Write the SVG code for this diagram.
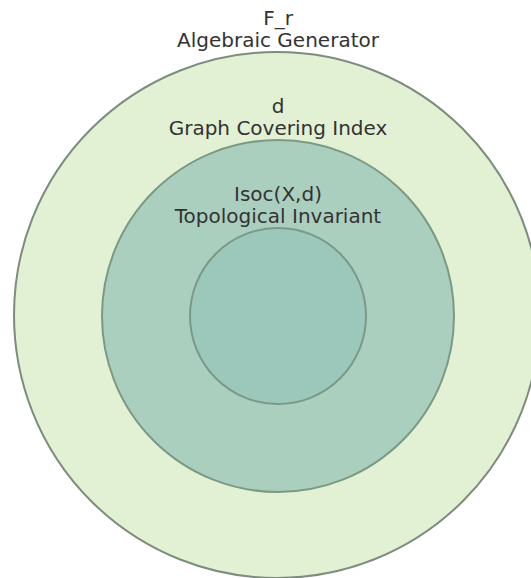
<svg xmlns="http://www.w3.org/2000/svg" width="531" height="578" viewBox="0 0 531 578">
<style>
.lbl{font-family:"DejaVu Sans",sans-serif;font-size:20px;fill:#333333;text-anchor:middle}
.ring{stroke-width:2}
</style>
<rect width="531" height="578" fill="#ffffff"/>
<g id="outer"><circle class="ring" cx="277" cy="315" r="263" fill="#e2f0d3" stroke="#7d8c7d"/></g>
<g id="middle"><circle class="ring" cx="278" cy="316" r="176" fill="#abcfbe" stroke="#7a9a84"/></g>
<g id="inner"><circle class="ring" cx="278" cy="316" r="88" fill="#9cc8bb" stroke="#7a9a88"/></g>
<g id="labels">
<text class="lbl" x="278" y="25">F_r</text>
<text class="lbl" x="278" y="47">Algebraic Generator</text>
<text class="lbl" x="278" y="113">d</text>
<text class="lbl" x="278" y="135">Graph Covering Index</text>
<text class="lbl" x="278" y="201">Isoc(X,d)</text>
<text class="lbl" x="278" y="223">Topological Invariant</text>
</g>
<g id="connectors"></g>
</svg>
